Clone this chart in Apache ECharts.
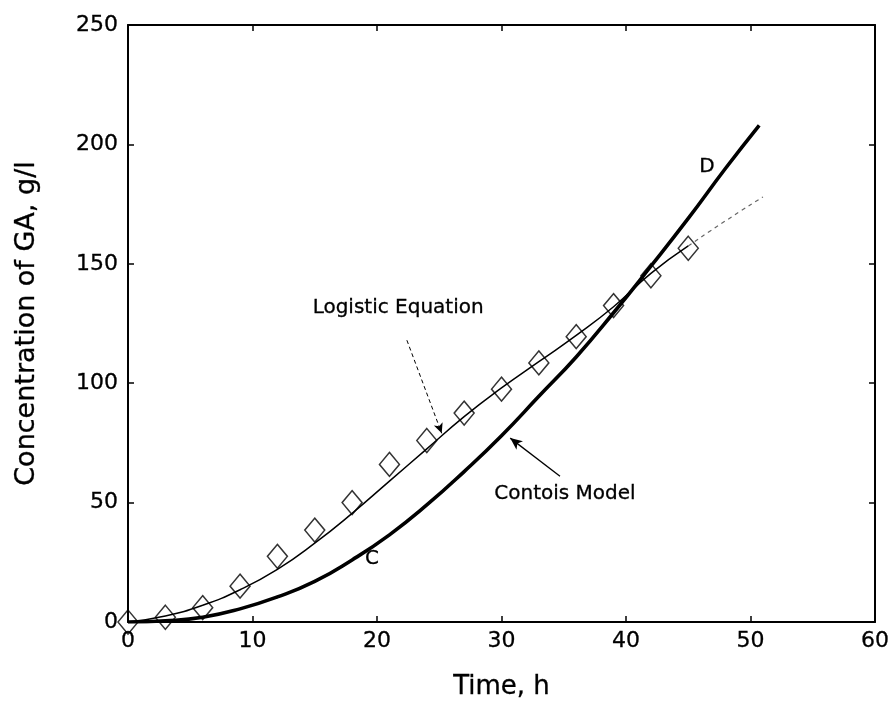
<!DOCTYPE html>
<html>
<head>
<meta charset="utf-8">
<script src="https://cdn.jsdelivr.net/npm/echarts@6/dist/echarts.min.js"></script>
<style>html,body{margin:0;padding:0;background:#fff}#c{width:891px;height:702px}</style>
</head>
<body>
<div id="c"></div>
<script>
// Experimental data (diamonds)
const expTime = [0, 3, 6, 9, 12, 15, 18, 21, 24, 27, 30, 33, 36, 39, 42, 45];
const expGA   = [0, 2, 6, 15, 27.5, 38.5, 50, 66, 76, 87.5, 97.5, 108.5, 119.5, 132.5, 145, 156.5];

// Logistic equation fit (thin line)
const logTime = [0, 3, 6, 9, 12, 15, 18, 21, 24, 27, 30, 33, 36, 39, 42, 45];
const logGA   = [0, 2.5, 7, 13.5, 22, 33, 45.5, 59, 72.5, 86, 98, 109, 120, 132, 146, 157.5];
// faded tail of the logistic curve
const logTailTime = [45, 48, 51];
const logTailGA   = [157.5, 168, 178];

// Contois model (thick line)
const conTime = [0, 3, 6, 9, 12, 15, 18, 21, 24, 27, 30, 33, 36, 39, 42, 45, 48, 50.7];
const conGA   = [0, 0.5, 2, 5.5, 10.5, 17, 26, 36.5, 49, 63, 78, 94.5, 111, 129.5, 149, 169, 190, 208];

const xTicks = [0, 10, 20, 30, 40, 50, 60];
const yTicks = [0, 50, 100, 150, 200, 250];

const FONT = 'DejaVu Sans';
const zip = (a, b) => a.map((v, i) => [v, b[i]]);

const chart = echarts.init(document.getElementById('c'));
const axisLine = { show: true, onZero: false, lineStyle: { color: '#000', width: 2 } };
const axisTick = { show: true, inside: true, length: 6, lineStyle: { color: '#000', width: 1.5 } };
const boldish = { textBorderColor: '#000', textBorderWidth: 0.3 };

chart.setOption({
  animation: false,
  backgroundColor: '#fff',
  grid: { left: 128, right: 16, top: 25, bottom: 80, containLabel: false, outerBoundsMode: 'none' },
  xAxis: [{
    type: 'value', min: xTicks[0], max: xTicks[xTicks.length - 1], interval: 10,
    name: 'Time, h', nameLocation: 'middle', nameGap: 52,
    nameTextStyle: Object.assign({ fontFamily: FONT, fontSize: 26, color: '#000' }, boldish),
    axisLine, axisTick,
    axisLabel: Object.assign({ fontFamily: FONT, fontSize: 22, color: '#000', margin: 8 }, boldish),
    splitLine: { show: false }
  }, {
    type: 'value', position: 'top', min: 0, max: 60, interval: 10,
    axisLine, axisTick, axisLabel: { show: false }, splitLine: { show: false }
  }],
  yAxis: [{
    type: 'value', min: yTicks[0], max: yTicks[yTicks.length - 1], interval: 50,
    name: 'Concentration of GA, g/l', nameLocation: 'middle', nameGap: 88,
    nameTextStyle: Object.assign({ fontFamily: FONT, fontSize: 27, color: '#000' }, boldish),
    axisLine, axisTick,
    axisLabel: Object.assign({ fontFamily: FONT, fontSize: 22, color: '#000', margin: 10 }, boldish),
    splitLine: { show: false }
  }, {
    type: 'value', position: 'right', min: 0, max: 250, interval: 50,
    axisLine, axisTick, axisLabel: { show: false }, splitLine: { show: false }
  }],
  series: [
    {
      type: 'line', data: zip(conTime, conGA), smooth: 0.5, showSymbol: false,
      lineStyle: { color: '#000', width: 3.6 }, z: 3,
      markPoint: {
        symbol: 'circle', symbolSize: 0,
        label: Object.assign({ show: true, fontFamily: FONT, fontSize: 20, color: '#000', position: 'inside' }, boldish),
        data: [
          { coord: [19.6, 26.4], value: 'C' },
          { coord: [46.5, 190.5], value: 'D' }
        ]
      },
      markLine: {
        silent: true, symbol: ['none', 'arrow'], symbolSize: [8, 12],
        lineStyle: { color: '#000', width: 1.3, type: 'solid' },
        label: { show: false },
        data: [[{ coord: [34.7, 61] }, { coord: [30.7, 77] }]]
      }
    },
    {
      type: 'line', data: zip(logTime, logGA), smooth: 0.5, showSymbol: false,
      lineStyle: { color: '#000', width: 1.5 }, z: 3,
      markPoint: {
        symbol: 'circle', symbolSize: 0,
        label: Object.assign({ show: true, fontFamily: FONT, fontSize: 20, color: '#000', position: 'inside' }, boldish),
        data: [
          { coord: [21.7, 131.6], value: 'Logistic Equation' },
          { coord: [35.1, 53.6], value: 'Contois Model' }
        ]
      },
      markLine: {
        silent: true, symbol: ['none', 'arrow'], symbolSize: [7, 10],
        lineStyle: { color: '#000', width: 1, type: [4, 3] },
        label: { show: false },
        data: [[{ coord: [22.4, 118] }, { coord: [25.2, 79] }]]
      }
    },
    {
      type: 'line', data: zip(logTailTime, logTailGA), smooth: 0.5, showSymbol: false,
      lineStyle: { color: '#666', width: 1.2, type: [4, 4] }, z: 2
    },
    {
      type: 'scatter', data: zip(expTime, expGA), symbol: 'diamond', symbolSize: [20, 24],
      itemStyle: { color: 'rgba(255,255,255,0)', borderColor: '#000', borderWidth: 1.5 }, z: 4
    }
  ]
});
</script>
</body>
</html>
